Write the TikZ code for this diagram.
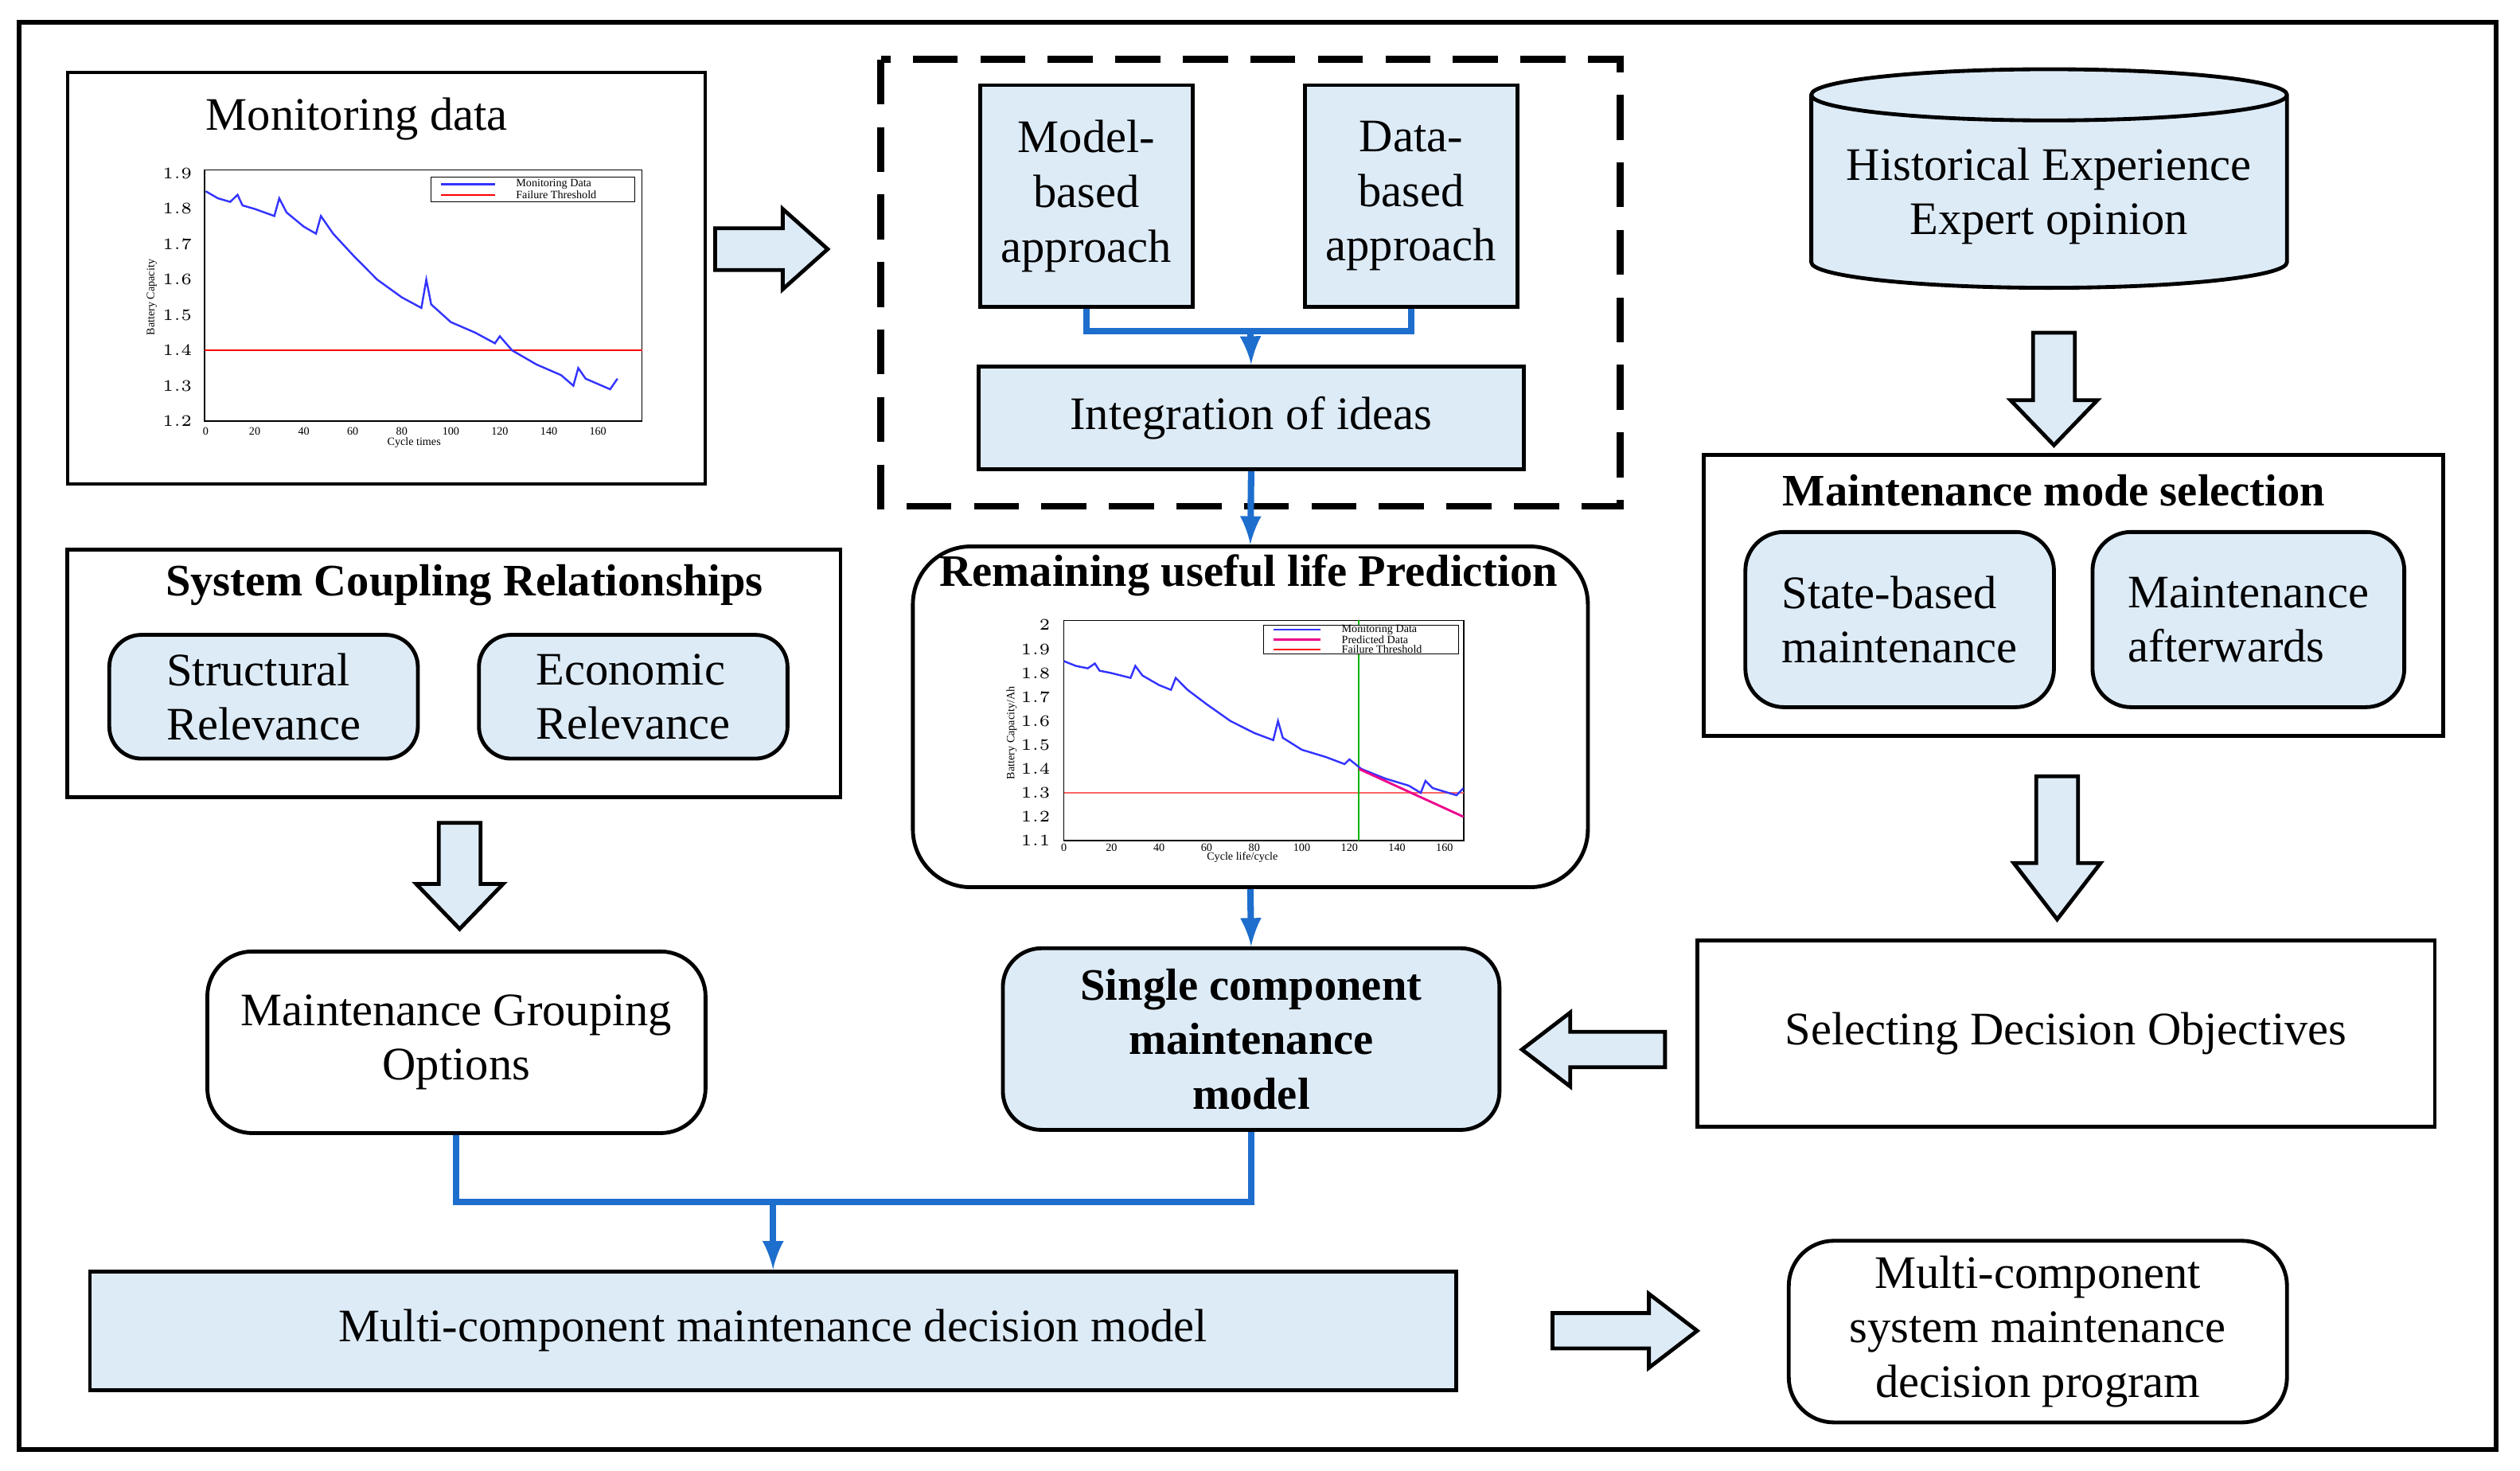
\documentclass[tikz,border=0pt]{standalone}
\usepackage{fontspec}
\setmainfont{Liberation Serif}
\usetikzlibrary{shapes.geometric}
\definecolor{lb}{RGB}{221,235,247}
\definecolor{bl}{RGB}{30,110,205}
\tikzset{
 box/.style={draw,line width=1.2pt,fill=lb,align=center,font=\fontsize{14.5}{17}\selectfont},
 wbox/.style={draw,line width=1.2pt,align=center,font=\fontsize{14.5}{17}\selectfont},
 ttl/.style={font=\bfseries\fontsize{14}{17}\selectfont},
 con/.style={draw=bl,line width=2pt},
 tk/.style={font=\fontsize{3.5}{4}\selectfont}
}
% #1 start, #2 rotation, #3 length, #4 shaft half, #5 head half, #6 head length
\newcommand{\barrow}[6]{\draw[line width=1.2pt,fill=lb,shift={#1},rotate=#2] (0,-#4)--({#3-#6},-#4)--({#3-#6},-#5)--(#3,0)--({#3-#6},#5)--({#3-#6},#4)--(0,#4)--cycle;}
\begin{document}
\begin{tikzpicture}[x=0.5pt,y=-0.5pt]
\useasboundingbox (0,0) rectangle (1568,915);
\draw[line width=1.5pt] (12,14) rectangle (1553,902);
% monitoring data
\node[draw,line width=1pt,minimum width=198.5pt,minimum height=128pt] (mon) at (240.5,173) {};
\node[font=\fontsize{14.5}{17}\selectfont] (mt) at (222,74) {Monitoring data};
\begin{scope}[shift={(128,526)},x=0.7625pt,y=110pt]
\draw[line width=0.4pt] (-0.5,1.2) rectangle (178,1.91);
\foreach \v in {0,20,...,160}{\node[tk] at (\v,1.17){\v};}
\foreach \v in {1.2,1.3,...,1.91}{\node[tk,anchor=east] at (-1,\v){\pgfmathprintnumber[fixed,precision=1]{\v}};}
\node[tk] at (85,1.14){Cycle times};
\node[tk,rotate=90] at (-22,1.55){Battery Capacity};
\draw[red,line width=0.6pt] (-0.5,1.4)--(178,1.4);
\draw[blue!80,line width=0.6pt] plot coordinates {(0,1.85)(5,1.83)(10,1.82)(13,1.84)(15,1.81)(20,1.80)(28,1.78)(30,1.83)(33,1.79)(40,1.75)(45,1.73)(47,1.78)(52,1.73)(60,1.67)(70,1.60)(80,1.55)(88,1.52)(90,1.60)(92,1.53)(100,1.48)(110,1.45)(118,1.42)(120,1.44)(125,1.40)(135,1.36)(145,1.33)(150,1.30)(152,1.35)(155,1.32)(165,1.29)(168,1.32)};
\draw[line width=0.3pt,fill=white] (92,1.89) rectangle (175,1.82);
\draw[blue!80,line width=0.6pt] (96,1.87)--(118,1.87); \node[tk,anchor=west] at (122,1.87){Monitoring Data};
\draw[red,line width=0.6pt] (96,1.84)--(118,1.84); \node[tk,anchor=west] at (122,1.84){Failure Threshold};
\end{scope}
\barrow{(445,155)}{0}{70}{13}{25}{28}
% dashed box
\draw[line width=2.2pt,dash pattern=on 14pt off 7pt] (548,37) rectangle (1008,315);
\node[box,minimum width=66pt,minimum height=69pt] (mb) at (676,122) {Model-\\based\\approach};
\node[box,minimum width=66pt,minimum height=69pt] (db) at (878,122) {Data-\\based\\approach};
\node[box,minimum width=169.5pt,minimum height=32pt] (ii) at (778.5,260) {Integration of ideas};
\coordinate (j) at (778,206);
\draw[con] (mb.south)|-(j)-|(db.south);
\draw[con,-latex] (j)--(ii.north);
% RUL
\node[draw,line width=1.2pt,rounded corners=18pt,minimum width=210pt,minimum height=106pt] (rul) at (778,446) {};
\node[ttl] at (777,358) {Remaining useful life Prediction};
\draw[con,-latex] (ii.south)--(rul.north);
\begin{scope}[shift={(662,687)},x=0.74pt,y=74.5pt]
\draw[line width=0.4pt] (0,1.1) rectangle (168,2.02);
\foreach \v in {0,20,...,160}{\node[tk] at (\v,1.07){\v};}
\foreach \v in {1.1,1.2,...,2.01}{\node[tk,anchor=east] at (-1,\v){\pgfmathprintnumber[fixed,precision=1]{\v}};}
\node[tk] at (75,1.03){Cycle life/cycle};
\node[tk,rotate=90] at (-22,1.55){Battery Capacity/Ah};
\draw[red!60,line width=0.5pt] (0,1.3)--(168,1.3);
\draw[green!70!black,line width=0.5pt] (124,1.1)--(124,2.02);
\draw[blue!80,line width=0.6pt] plot coordinates {(0,1.85)(5,1.83)(10,1.82)(13,1.84)(15,1.81)(20,1.80)(28,1.78)(30,1.83)(33,1.79)(40,1.75)(45,1.73)(47,1.78)(52,1.73)(60,1.67)(70,1.60)(80,1.55)(88,1.52)(90,1.60)(92,1.53)(100,1.48)(110,1.45)(118,1.42)(120,1.44)(125,1.40)(135,1.36)(145,1.33)(150,1.30)(152,1.35)(155,1.32)(165,1.29)(168,1.32)};
\draw[magenta,line width=0.7pt] (124,1.40)--(168,1.20);
\draw[line width=0.3pt,fill=white] (84,2.0) rectangle (166,1.88);
\draw[blue!80,line width=0.5pt] (88,1.98)--(108,1.98); \node[tk,anchor=west] at (112,1.98){Monitoring Data};
\draw[magenta,line width=0.5pt] (88,1.94)--(108,1.94); \node[tk,anchor=west] at (112,1.94){Predicted Data};
\draw[red,line width=0.5pt] (88,1.90)--(108,1.90); \node[tk,anchor=west] at (112,1.90){Failure Threshold};
\end{scope}
% single component
\node[box,rounded corners=12pt,font=\bfseries\fontsize{14}{17}\selectfont,minimum width=154.5pt,minimum height=56.5pt] (sc) at (778.5,646.5) {Single component\\maintenance\\model};
\draw[con,-latex] (rul.south)--(sc.north);
% historical
\node[cylinder,shape border rotate=90,draw,line width=1.2pt,fill=lb,aspect=0.12,minimum width=148pt,minimum height=68pt,align=center,font=\fontsize{14.5}{17}\selectfont] (he) at (1275,122) {Historical Experience\\Expert opinion};
\barrow{(1278,207)}{-90}{70}{13}{27}{28}
% maintenance mode
\node[draw,line width=1.2pt,minimum width=230pt,minimum height=87.5pt] (mm) at (1290,370.5) {};
\node[ttl] at (1278,305) {Maintenance mode selection};
\node[box,rounded corners=12pt,minimum width=96pt,minimum height=54.5pt,align=left] (sb) at (1182,385.5) {State-based\\maintenance};
\node[box,rounded corners=12pt,minimum width=97pt,minimum height=54.5pt,align=left] (ma) at (1399,385.5) {Maintenance\\afterwards};
\barrow{(1280,483)}{-90}{89}{13}{27}{35}
\node[wbox,minimum width=229.5pt,minimum height=58pt] (sd) at (1285.5,643) {Selecting Decision Objectives};
\barrow{(1036,653)}{180}{89}{11}{23}{30}
% system coupling
\node[draw,line width=1.2pt,minimum width=240.5pt,minimum height=77pt] (syc) at (282.5,419) {};
\node[ttl] at (289,364) {System Coupling Relationships};
\node[box,rounded corners=10pt,minimum width=96pt,minimum height=38.5pt,align=left] (sr) at (164,433.5) {Structural\\Relevance};
\node[box,rounded corners=10pt,minimum width=96pt,minimum height=38.5pt,align=left] (er) at (394,433.5) {Economic\\Relevance};
\barrow{(286,512)}{-90}{66}{13}{27}{28}
\node[wbox,rounded corners=14pt,minimum width=155pt,minimum height=56.5pt] (mg) at (284,648.5) {Maintenance Grouping\\Options};
% bottom
\node[box,minimum width=425pt,minimum height=37pt] (mc) at (481,828) {Multi-component maintenance decision model};
\coordinate (j2) at (481,748);
\draw[con] (mg.south)|-(j2)-|(sc.south);
\draw[con,-latex] (j2)--(mc.north);
\barrow{(966,828)}{0}{90}{11}{23}{30}
\node[wbox,rounded corners=14pt,minimum width=155pt,minimum height=56.5pt] (mp) at (1268,828.5) {Multi-component\\system maintenance\\decision program};
\end{tikzpicture}
\end{document}
